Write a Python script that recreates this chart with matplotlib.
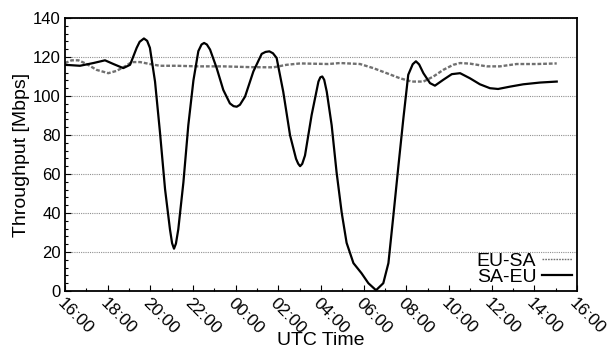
import numpy as np
import matplotlib
matplotlib.use("Agg")
import matplotlib.pyplot as plt
from matplotlib.ticker import MultipleLocator

# hours since 16:00 UTC, throughput in Mbps
sa_eu_h = [0.0, 0.7, 1.33, 1.875, 2.27, 2.73, 3.05, 3.36, 3.5, 3.70, 3.85, 3.98, 4.22, 4.45,
           4.69, 4.92, 5.02, 5.11, 5.2, 5.31, 5.55, 5.78, 6.02, 6.25, 6.4, 6.52, 6.65, 6.80,
           7.11, 7.42, 7.73, 7.9, 8.05, 8.2, 8.44, 8.83, 9.22, 9.4, 9.58, 9.75, 9.92, 10.23,
           10.55, 10.83, 10.93, 11.02, 11.12, 11.25, 11.56, 11.88, 11.97, 12.06, 12.15,
           12.27, 12.5, 12.73, 12.97, 13.2, 13.52, 13.9, 14.22, 14.58, 14.92, 15.16, 15.39,
           15.63, 15.86, 16.09, 16.3, 16.45, 16.6, 16.80, 17.11, 17.34, 17.73, 18.13, 18.52,
           18.98, 19.45, 19.92, 20.3, 20.86, 21.48, 22.27, 23.05]
sa_eu_v = [116.0, 115.5, 116.9, 118.3, 116.4, 114.3, 116.0, 124.7, 127.8, 129.5, 128.3, 124.7,
           107.4, 81.6, 52.2, 31.6, 24.5, 21.7, 24.3, 31.6, 55.7, 85.0, 108.0, 123.0, 126.4,
           127.2, 126.4, 123.8, 114.3, 103.1, 96.2, 94.8, 94.5, 95.5, 99.7, 112.6, 121.6,
           122.6, 122.9, 121.9, 119.5, 102.2, 79.8, 67.8, 65.3, 64.0, 65.2, 69.5, 90.2, 107.4,
           109.6, 110.0, 108.3, 102.2, 85.0, 60.9, 40.2, 24.7, 14.3, 9.1, 4.0, 0.4, 4.0, 14.3,
           38.4, 64.3, 88.4, 110.9, 116.3, 117.8, 116.2, 111.7, 106.6, 105.3, 108.3, 111.2,
           111.7, 109.1, 106.0, 104.0, 103.6, 104.8, 106.0, 106.9, 107.4]

eu_sa_h = [0.0, 0.31, 0.63, 1.02, 1.48, 2.03, 2.42, 2.81, 3.13, 3.52, 3.98, 4.45,
           5.23, 6.25, 7.42, 8.67, 9.77, 10.39, 11.02, 12.34, 12.89, 13.83, 14.45,
           15.08, 15.7, 16.25, 16.8, 17.27, 17.73, 18.2, 18.52, 18.98, 19.77, 20.39,
           21.17, 22.11, 23.05]
eu_sa_v = [116.9, 118.3, 118.3, 116.4, 113.4, 111.7, 112.9, 115.2, 117.4, 117.4, 116.4, 115.5,
           115.5, 115.2, 115.2, 114.8, 114.7, 116.0, 116.7, 116.4, 116.9, 116.4, 114.3,
           111.7, 109.1, 107.4, 107.4, 110.0, 113.4, 116.0, 116.9, 116.6, 115.2, 115.2,
           116.4, 116.4, 116.7]

tick_hours = list(range(0, 25, 2))
tick_labels = ["16:00", "18:00", "20:00", "22:00", "00:00", "02:00", "04:00",
               "06:00", "08:00", "10:00", "12:00", "14:00", "16:00"]

plt.rcParams["font.family"] = ["Liberation Sans", "DejaVu Sans"]

fig = plt.figure(figsize=(6.13, 3.51), dpi=100)
ax = fig.add_axes([65 / 613, 60 / 351, 512 / 613, 273 / 351])

ax.plot(eu_sa_h, eu_sa_v, color="#707070", lw=1.7, dashes=(1.6, 0.8), label="EU-SA")
ax.plot(sa_eu_h, sa_eu_v, color="black", lw=1.6, label="SA-EU")

ax.set_xlim(0, 24)
ax.set_ylim(0, 140)
ax.set_xticks(tick_hours)
ax.set_xticklabels(tick_labels, rotation=-45, ha="left", va="top",
                   rotation_mode="anchor", fontsize=12.5)
ax.xaxis.set_minor_locator(MultipleLocator(1))
ax.yaxis.set_major_locator(MultipleLocator(20))
ax.yaxis.set_minor_locator(MultipleLocator(4))
ax.tick_params(axis="y", labelsize=12, pad=3)
ax.tick_params(which="both", direction="in", top=False, right=False, width=0.8)
ax.tick_params(which="major", length=4)
ax.tick_params(which="minor", length=2)
ax.tick_params(axis="x", which="major", pad=3)

ax.yaxis.grid(True, which="major", color="#909090", linestyle=(0, (1, 1)), lw=0.8)
for s in ax.spines.values():
    s.set_linewidth(1.3)

ax.set_xlabel("UTC Time", fontsize=14, labelpad=-3)
ax.set_ylabel("Throughput [Mbps]", fontsize=14, labelpad=2)

leg = ax.legend(loc="lower right", frameon=False, markerfirst=False, fontsize=14,
                handlelength=1.55, handletextpad=0.3, labelspacing=-0.08,
                borderaxespad=0.15, borderpad=0.1)
for t in leg.get_texts():
    t.set_ha("right")
leg.get_lines()[0].set_linewidth(1.0)
leg.get_lines()[0].set_dashes((1.2, 0.8))

fig.savefig("out.png", dpi=100)
